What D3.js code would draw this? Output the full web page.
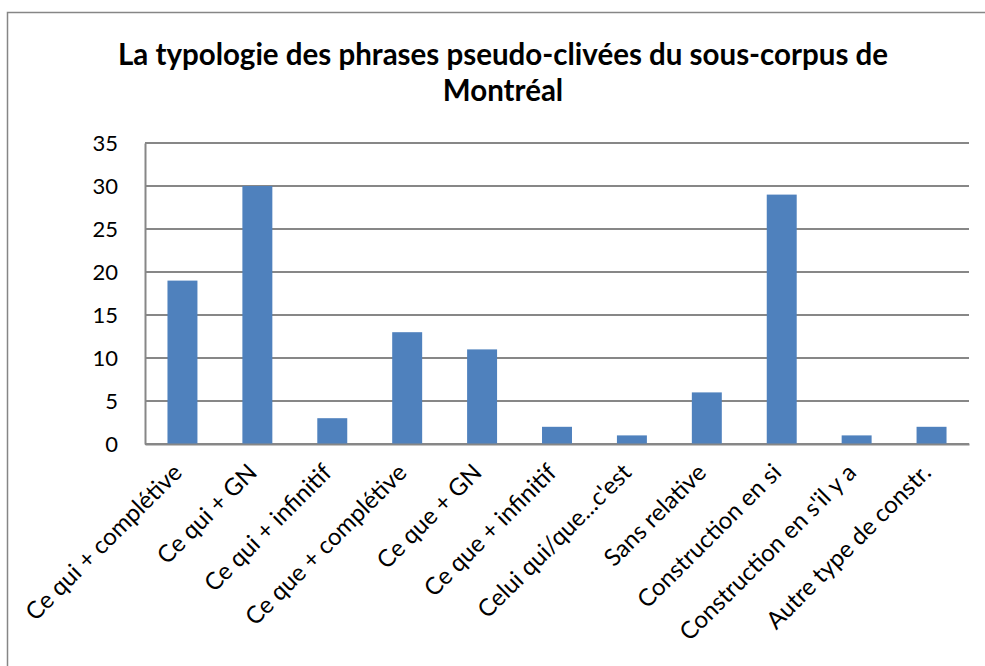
<!DOCTYPE html>
<html>
<head>
<meta charset="utf-8">
<script src="https://cdn.jsdelivr.net/npm/d3@7"></script>
<style>
  body { margin: 0; background: #fff; }
  svg { font-family: Lato, "Open Sans", sans-serif; }
</style>
</head>
<body>
<div id="chart"></div>
<script>
// Data
const categories = [
    "Ce qui + complétive",
    "Ce qui + GN",
    "Ce qui + infinitif",
    "Ce que + complétive",
    "Ce que + GN",
    "Ce que + infinitif",
    "Celui qui/que...c'est",
    "Sans relative",
    "Construction en si",
    "Construction en s'il y a",
    "Autre type de constr."
];
const counts = [19, 30, 3, 13, 11, 2, 1, 6, 29, 1, 2];
const yTicks = [0, 5, 10, 15, 20, 25, 30, 35];
const titleLines = ["La typologie des phrases pseudo-clivées du sous-corpus de", "Montréal"];

const W = 985, H = 666;
const margin = { top: 143, right: 16, bottom: 222, left: 145 },
    width = W - margin.left - margin.right,
    height = H - margin.top - margin.bottom;

const svg = d3.select("#chart")
    .append("svg")
    .attr("width", W)
    .attr("height", H);

// outer chart frame (cut off on the right and bottom)
svg.append("rect")
    .attr("x", 7.5)
    .attr("y", 12.5)
    .attr("width", 1000)
    .attr("height", 700)
    .attr("fill", "none")
    .attr("stroke", "#868686")
    .attr("stroke-width", 1.5);

// title
svg.append("text")
    .attr("text-anchor", "middle")
    .attr("font-weight", "bold")
    .attr("font-size", "29.5px")
    .attr("fill", "#000")
    .selectAll("tspan")
    .data(titleLines)
    .enter()
    .append("tspan")
    .attr("x", 503)
    .attr("y", (d, i) => 65 + i * 36)
    .text(d => d);

const g = svg.append("g")
    .attr("transform", `translate(${margin.left},${margin.top})`);

// scales
const x = d3.scaleBand()
    .domain(categories)
    .range([0, width])
    .paddingInner(0.6)
    .paddingOuter(0.3);

const y = d3.scaleLinear()
    .domain([0, 35])
    .range([height, 0]);

// gridlines
g.append("g")
    .selectAll("line")
    .data(yTicks)
    .enter()
    .append("line")
    .attr("x1", 0)
    .attr("x2", width)
    .attr("y1", d => y(d))
    .attr("y2", d => y(d))
    .attr("stroke", "#878787")
    .attr("stroke-width", 2);

// y axis
const yAxis = g.append("g")
    .call(d3.axisLeft(y).tickValues(yTicks).tickSize(0).tickPadding(27));
yAxis.select(".domain").attr("stroke", "#878787").attr("stroke-width", 2);
yAxis.selectAll("text")
    .attr("font-size", "22px")
    .attr("font-family", "Lato, sans-serif")
    .attr("fill", "#000");

// bars
g.selectAll(".bar")
    .data(categories)
    .enter()
    .append("rect")
    .attr("class", "bar")
    .attr("x", d => x(d))
    .attr("y", (d, i) => y(counts[i]))
    .attr("width", x.bandwidth())
    .attr("height", (d, i) => height - y(counts[i]))
    .attr("fill", "#4F81BD");

// x axis
const xAxis = g.append("g")
    .attr("transform", `translate(0,${height})`)
    .call(d3.axisBottom(x).tickSize(0).tickPadding(0));
xAxis.select(".domain").attr("stroke", "#878787").attr("stroke-width", 2);
xAxis.selectAll("text")
    .attr("font-size", "24px")
    .attr("font-family", "Lato, sans-serif")
    .attr("fill", "#000")
    .attr("text-anchor", "end")
    .attr("dy", 0)
    .attr("transform", "translate(1,30) rotate(-45)");
</script>
</body>
</html>
